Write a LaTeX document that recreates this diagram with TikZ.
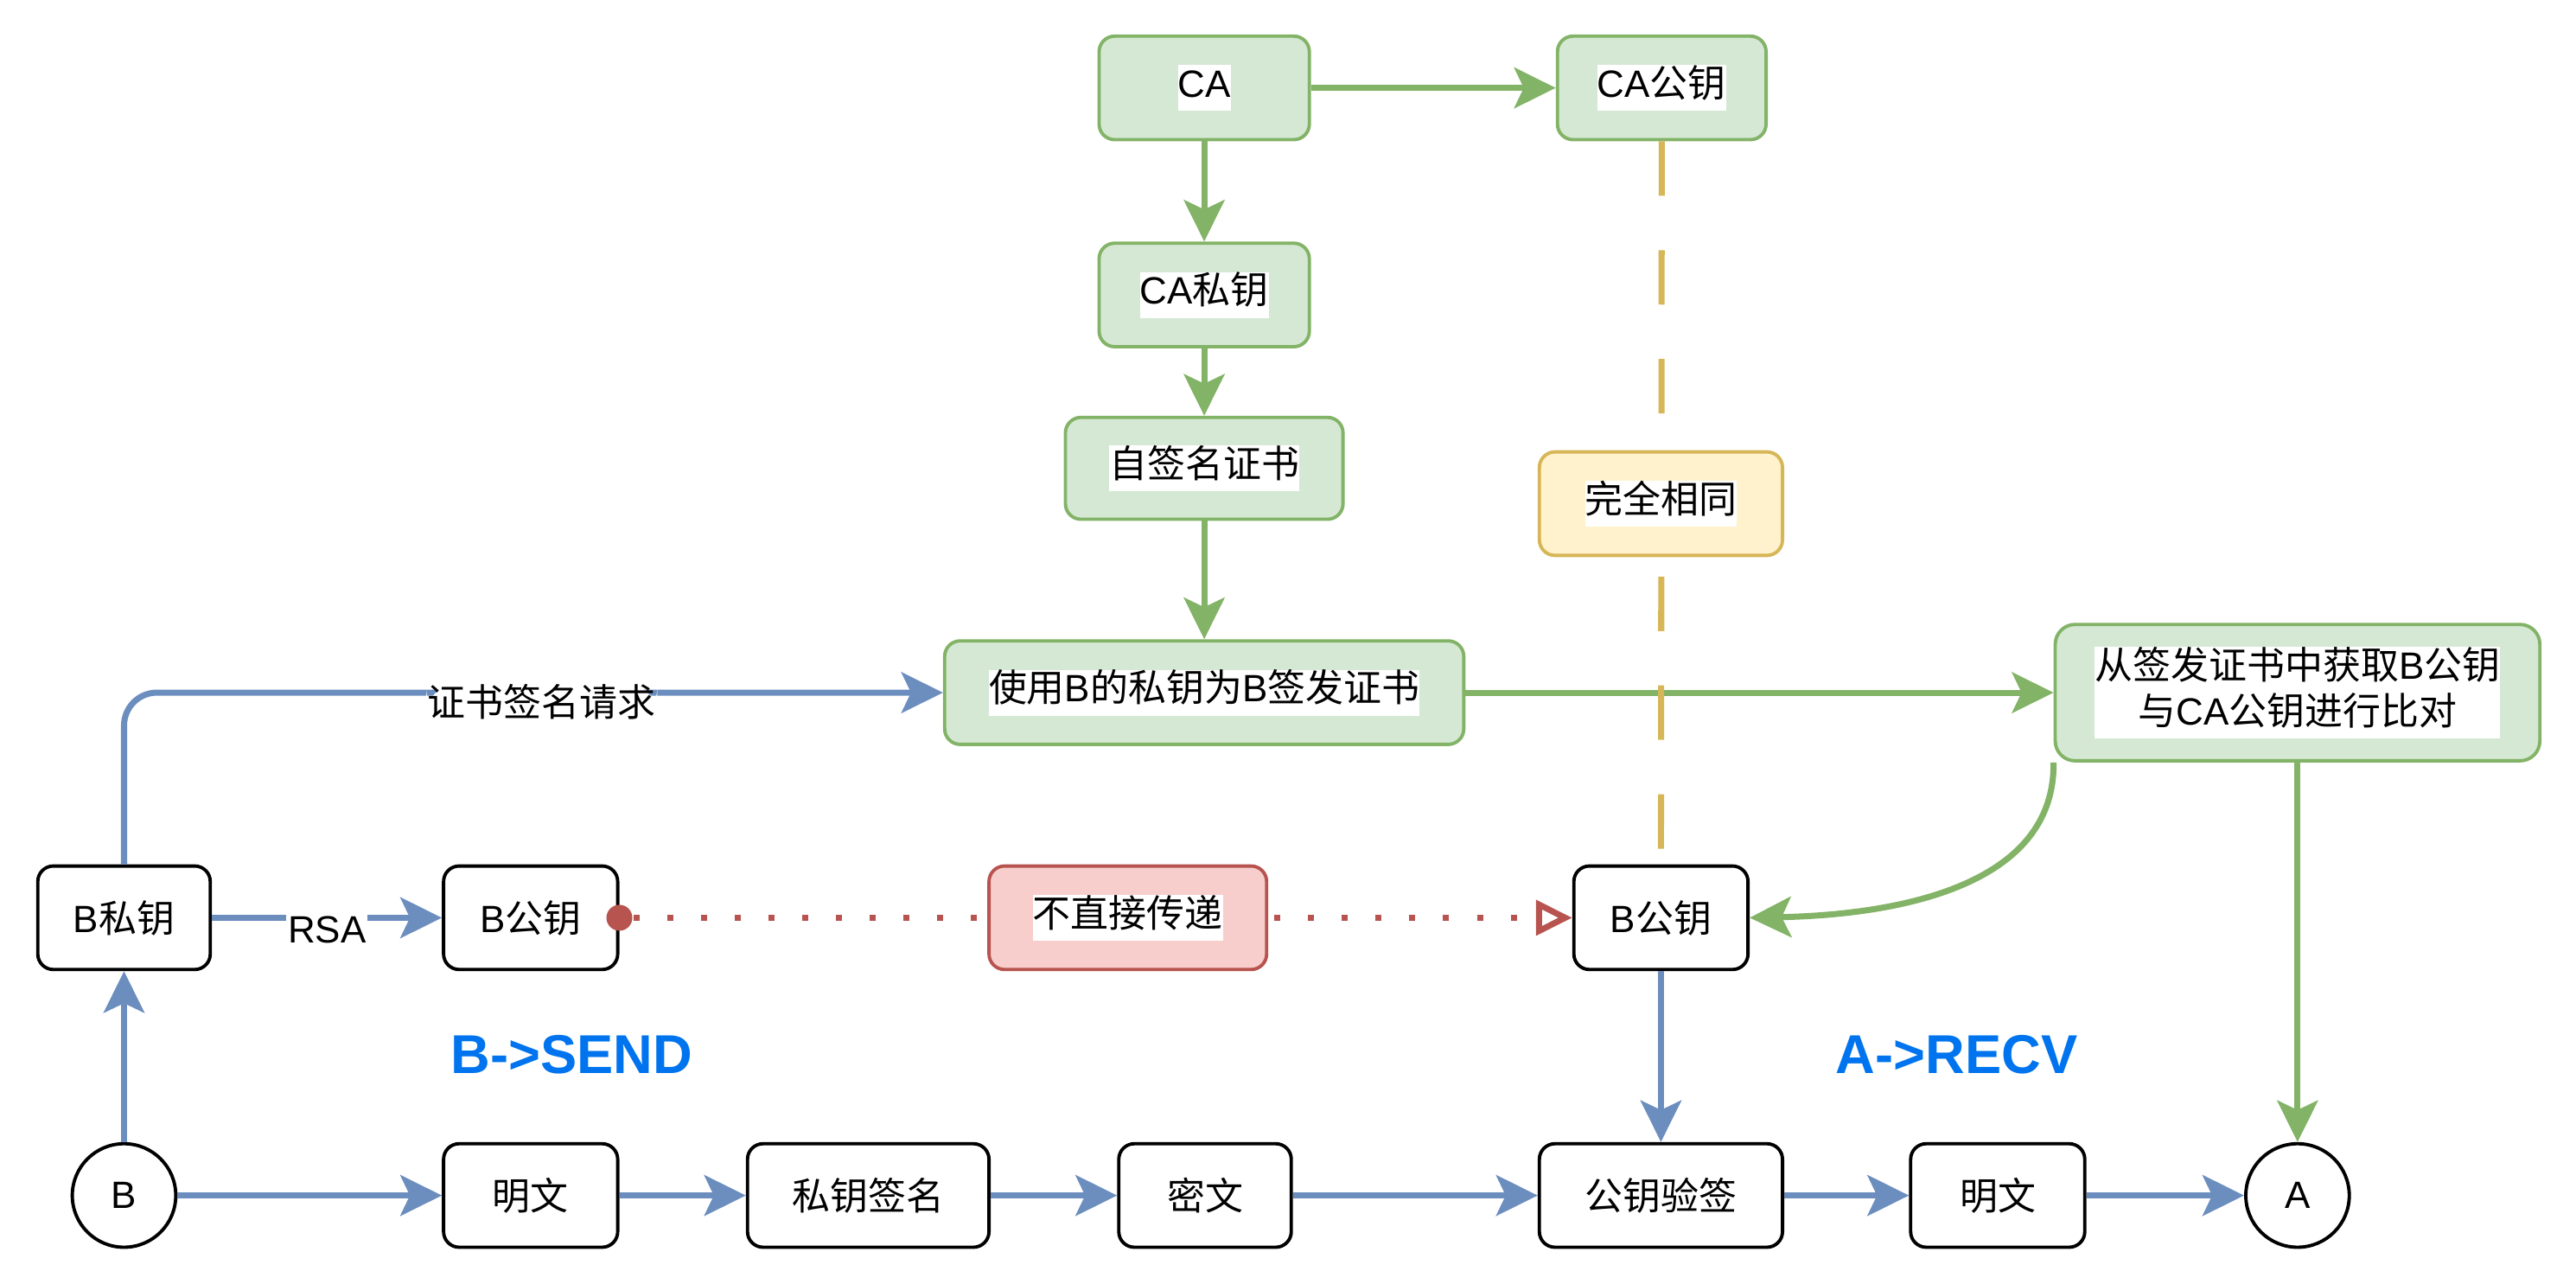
\documentclass[tikz,border=0pt]{standalone}
\usepackage{fontspec}
\setmainfont{Liberation Sans}
\newfontfamily\cjk{Noto Sans CJK SC}
\usetikzlibrary{arrows.meta}
\definecolor{gfill}{HTML}{D5E8D4}
\definecolor{gline}{HTML}{82B366}
\definecolor{bline}{HTML}{6C8EBF}
\definecolor{rfill}{HTML}{F8CECC}
\definecolor{rline}{HTML}{B85450}
\definecolor{yfill}{HTML}{FFF2CC}
\definecolor{yline}{HTML}{D6B656}
\definecolor{ttl}{HTML}{0074EE}
\newcommand\zh[1]{{\cjk #1}}
\newcommand\wb[1]{{\setlength\fboxsep{0pt}\colorbox{white}{\strut #1}}}
\newcommand\wbb[1]{{\setlength\fboxsep{0pt}\colorbox{white}{\begin{tabular}{@{}c@{}}#1\end{tabular}}}}
\def\un{0.019cm}
\tikzset{
  base/.style={rounded corners=0.18cm, line width=1.1pt, align=center, inner sep=0pt,
    font=\fontsize{12.5}{15}\selectfont},
  sz/.style 2 args={minimum width=#1*\un, minimum height=#2*\un},
  gbox/.style={base, draw=gline, fill=gfill},
  wbox/.style={base, draw=black, fill=white},
  rbox/.style={base, draw=rline, fill=rfill},
  ybox/.style={base, draw=yline, fill=yfill},
  circ/.style={circle, draw=black, fill=white, line width=1.1pt, minimum size=63*\un,
    inner sep=0pt, font=\fontsize{12.5}{15}\selectfont},
  conn/.style={line width=2pt, -{Stealth[length=0.48cm,width=0.47cm,inset=0.11cm]}},
  gconn/.style={conn, draw=gline},
  bconn/.style={conn, draw=bline},
  lbl/.style={fill=white, inner sep=0.5pt, font=\fontsize{12.5}{15}\selectfont},
  ttlstyle/.style={text=ttl, font=\fontsize{18}{20}\selectfont\bfseries},
}
\begin{document}
\begin{tikzpicture}[x=0.019cm, y=-0.019cm]
\useasboundingbox (0,0) rectangle (1568,781);
% green nodes
\node[gbox, sz={128}{63}] (ca) at (733,53.5) {\wb{CA}};
\node[gbox, sz={127}{63}] (capub) at (1011.5,53.5) {\wb{CA\zh{公钥}}};
\node[gbox, sz={128}{63}] (capriv) at (733,179.5) {\wb{CA\zh{私钥}}};
\node[gbox, sz={169}{62}] (self) at (733,285) {\wb{\zh{自签名证书}}};
\node[gbox, sz={316}{63}] (sign) at (733,421.5) {\wb{\zh{使用}B\zh{的私钥为}B\zh{签发证书}}};
\node[gbox, sz={295}{83}, rounded corners=0.23cm] (extract) at (1398.5,421.5)
  {\wbb{\zh{从签发证书中获取}B\zh{公钥}\\\zh{与}CA\zh{公钥进行比对}}};
% white nodes
\node[wbox, sz={105}{63}] (bpriv) at (75.5,558.5) {B\zh{私钥}};
\node[wbox, sz={106}{63}] (bpubL) at (323,558.5) {B\zh{公钥}};
\node[wbox, sz={106}{63}] (bpubR) at (1011,558.5) {B\zh{公钥}};
\node[wbox, sz={106}{63}] (m1) at (323,727.5) {\zh{明文}};
\node[wbox, sz={147}{63}] (sig) at (528.5,727.5) {\zh{私钥签名}};
\node[wbox, sz={105}{63}] (ct) at (733.5,727.5) {\zh{密文}};
\node[wbox, sz={148}{63}] (ver) at (1011,727.5) {\zh{公钥验签}};
\node[wbox, sz={106}{63}] (m2) at (1216,727.5) {\zh{明文}};
\node[circ] (B) at (75.5,727.5) {B};
\node[circ] (A) at (1398.5,727.5) {A};
% titles
\node[ttlstyle] (tsend) at (348,642) {B->SEND};
\node[ttlstyle] (trecv) at (1191,642) {A->RECV};
% green connectors
\draw[gconn] (ca.east) -- (capub.west);
\draw[gconn] (ca.south) -- (capriv.north);
\draw[gconn] (capriv.south) -- (self.north);
\draw[gconn] (self.south) -- (sign.north);
\draw[gconn] (sign.east) -- (extract.west);
\draw[gconn] (extract.south west) .. controls (1251,545) and (1140,557) .. (bpubR.east);
\draw[gconn] (extract.south) -- (A.north);
% yellow dashed
\draw[draw=yline, line width=2pt, dash pattern=on 0.629cm off 0.629cm] (capub.south) -- (bpubR.north);
\node[ybox, sz={148}{63}] (same) at (1011,306.5) {\wb{\zh{完全相同}}};
% red dotted
\draw[draw=rline, line width=2pt, dash pattern=on 0.07cm off 0.32cm, dash phase=0.225cm,
  -{Triangle[open, length=0.42cm, width=0.4cm]}] (bpubL.east) -- (bpubR.west);
\fill[rline] (bpubL.east) circle (0.15cm);
\node[rbox, sz={169}{63}] (nd) at (686.5,558.5) {\wb{\zh{不直接传递}}};
% blue connectors
\draw[bconn] (bpriv.east) -- node[lbl, yshift=-0.14cm] {RSA} (bpubL.west);
\draw[bconn, rounded corners=0.38cm] (bpriv.north) |- node[lbl, pos=0.755, yshift=-0.11cm] {\zh{证书签名请求}} (sign.west);
\draw[bconn] (B.north) -- (bpriv.south);
\draw[bconn] (B.east) -- (m1.west);
\draw[bconn] (m1.east) -- (sig.west);
\draw[bconn] (sig.east) -- (ct.west);
\draw[bconn] (ct.east) -- (ver.west);
\draw[bconn] (ver.east) -- (m2.west);
\draw[bconn] (m2.east) -- (A.west);
\draw[bconn] (bpubR.south) -- (ver.north);
\end{tikzpicture}
\end{document}
